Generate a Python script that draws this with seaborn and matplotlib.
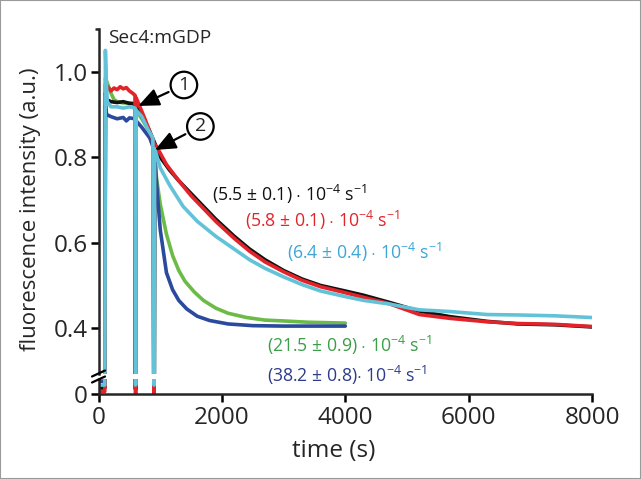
import matplotlib
matplotlib.use('Agg')
from matplotlib import pyplot as plt
from matplotlib.lines import Line2D
from matplotlib.patches import Rectangle
import seaborn as sns

# time (s) / fluorescence (a.u.)
t_black = [0, 100, 110, 130, 200, 300, 400, 500, 590, 600, 605, 700, 800, 895, 900, 905, 1000, 1150, 1300,
           1500, 1700, 1900, 2200, 2450, 2700, 3000, 3300, 3600, 4000, 4300, 4700, 5200, 5700, 6300, 6800,
           7400, 8000]
v_black = [0.013, 0.013, 0.95, 0.935, 0.93, 0.928, 0.93, 0.926, 0.925, 0.01, 0.92, 0.895, 0.87, 0.838, 0.01,
           0.835, 0.80, 0.77, 0.745, 0.715, 0.685, 0.655, 0.615, 0.585, 0.56, 0.535, 0.515, 0.50, 0.487,
           0.477, 0.461, 0.44, 0.427, 0.416, 0.41, 0.408, 0.403]

t_red = [0, 100, 110, 150, 200, 250, 300, 350, 400, 450, 500, 550, 590, 600, 605, 650, 750, 830, 895, 900,
         905, 940, 1100, 1300, 1500, 1700, 1900, 2200, 2450, 2700, 3000, 3300, 3600, 4000, 4300, 4700, 5200,
         5700, 6300, 6800, 7400, 8000]
v_red = [0.005, 0.005, 0.97, 0.965, 0.955, 0.962, 0.958, 0.965, 0.96, 0.963, 0.955, 0.95, 0.945, 0.0, 0.94,
         0.925, 0.89, 0.86, 0.835, 0.0, 0.83, 0.825, 0.783, 0.745, 0.71, 0.68, 0.65, 0.61, 0.58, 0.555, 0.532,
         0.512, 0.497, 0.483, 0.472, 0.458, 0.432, 0.423, 0.415, 0.411, 0.409, 0.404]

t_cyan = [0, 100, 110, 125, 140, 200, 300, 400, 500, 590, 600, 610, 700, 800, 880, 900, 910, 1000, 1150,
          1370, 1600, 1900, 2200, 2450, 2700, 3000, 3300, 3600, 4000, 4300, 4700, 5200, 5700, 6300, 6800,
          7400, 8000]
v_cyan = [0.02, 0.02, 1.05, 0.98, 0.93, 0.918, 0.918, 0.915, 0.918, 0.915, 0.02, 0.91, 0.895, 0.865, 0.845,
          0.02, 0.82, 0.775, 0.735, 0.685, 0.65, 0.615, 0.585, 0.56, 0.54, 0.52, 0.502, 0.487, 0.474, 0.465,
          0.457, 0.443, 0.439, 0.432, 0.431, 0.429, 0.425]

t_green = [0, 100, 110, 150, 200, 250, 300, 400, 500, 590, 600, 610, 700, 800, 880, 900, 910, 940, 1000,
           1100, 1200, 1300, 1400, 1550, 1700, 1900, 2100, 2400, 2700, 3000, 3400, 3700, 4000]
v_green = [0.015, 0.015, 0.985, 0.97, 0.95, 0.935, 0.93, 0.927, 0.927, 0.925, 0.01, 0.91, 0.89, 0.865, 0.84,
           0.01, 0.81, 0.75, 0.69, 0.62, 0.57, 0.535, 0.51, 0.485, 0.465, 0.447, 0.435, 0.425, 0.419, 0.417,
           0.414, 0.413, 0.412]

t_blue = [0, 100, 110, 130, 200, 300, 400, 450, 500, 590, 600, 610, 700, 830, 880, 900, 910, 950, 1000,
          1100, 1200, 1300, 1430, 1600, 1800, 2100, 2500, 3000, 3500, 4000]
v_blue = [0.029, 0.029, 0.92, 0.9, 0.895, 0.89, 0.893, 0.885, 0.892, 0.89, 0.01, 0.885, 0.87, 0.845, 0.825,
          0.01, 0.80, 0.72, 0.63, 0.53, 0.49, 0.465, 0.445, 0.428, 0.418, 0.41, 0.406, 0.405, 0.405, 0.405]

rate_labels = ['(5.5 $\\pm$ 0.1) $\\cdot$ 10$^{-4}$ s$^{-1}$',
               '(5.8 $\\pm$ 0.1) $\\cdot$ 10$^{-4}$ s$^{-1}$',
               '(6.4 $\\pm$ 0.4) $\\cdot$ 10$^{-4}$ s$^{-1}$',
               '(21.5 $\\pm$ 0.9) $\\cdot$ 10$^{-4}$ s$^{-1}$',
               '(38.2 $\\pm$ 0.8)$\\cdot$ 10$^{-4}$ s$^{-1}$']
x_ticks = [0, 2000, 4000, 6000, 8000]
y_ticks = [0.4, 0.6, 0.8, 1.0]

c_black, c_red, c_cyan, c_green, c_blue = '#111111', '#e3232a', '#62c3d8', '#6cbb47', '#2a4a9e'
txt_cols = ['#111111', '#e0262b', '#3ca6d6', '#3a9f48', '#2d3b8c']

sns.set_style('ticks')
plt.rcParams['font.family'] = ['Open Sans', 'DejaVu Sans']
plt.rcParams['mathtext.fontset'] = 'custom'
plt.rcParams['mathtext.rm'] = 'Open Sans'
plt.rcParams['mathtext.it'] = 'Open Sans'
plt.rcParams['axes.linewidth'] = 1.8

W, H = 641, 479
fig = plt.figure(figsize=(W / 100, H / 100), dpi=100)
fig.patch.set_facecolor('white')

def px(x0, y_top, x1, y_bot):
    return [x0 / W, 1 - y_bot / H, (x1 - x0) / W, (y_bot - y_top) / H]

ax = fig.add_axes(px(98.6, 29, 592, 374))
axl = fig.add_axes(px(98.6, 379, 592, 393.6), sharex=ax)

series = [(t_green, v_green, c_green), (t_blue, v_blue, c_blue), (t_black, v_black, c_black),
          (t_red, v_red, c_red), (t_cyan, v_cyan, c_cyan)]
for a in (ax, axl):
    for tt, vv, cc in series:
        sns.lineplot(x=tt, y=vv, ax=a, color=cc, lw=2.6, estimator=None, sort=False)
    a.set_facecolor('none')
    a.set_xlim(0, 8000)
    a.spines['top'].set_visible(False)
    a.spines['right'].set_visible(False)
    a.tick_params(width=1.8, length=6, labelsize=17.5, pad=2, color='black')

ax.set_ylim(0.2929, 1.1)
ax.set_yticks(y_ticks)
ax.set_yticklabels(['0.4', '0.6', '0.8', '1.0'])
ax.set_yticks([1.1], minor=True)
ax.tick_params(axis='y', which='minor', length=3, width=1.8)
ax.spines['bottom'].set_visible(False)
ax.tick_params(axis='x', bottom=False, labelbottom=False)

axl.set_ylim(0, 0.0342)
axl.set_yticks([0])
axl.set_yticklabels(['0'])
axl.set_xticks(x_ticks)
axl.set_xticklabels([str(v) for v in x_ticks])
axl.tick_params(axis='x', pad=3)

# break marks on the y axis
for yb in (373.5, 379.5):
    fig.add_artist(Line2D([92 / W, 105 / W], [1 - (yb + 3) / H, 1 - (yb - 3) / H],
                          color='black', lw=1.6, transform=fig.transFigure))

ax.text(152, 1.079, 'Sec4:mGDP', fontsize=13.8, ha='left', va='center')

ann = dict(fontsize=14, ha='center', va='center',
           bbox=dict(boxstyle='circle,pad=0.22', fc='white', ec='black', lw=1.6),
           arrowprops=dict(arrowstyle='-|>,head_length=0.7,head_width=0.3', color='black', lw=1.6,
                           mutation_scale=18, shrinkB=0))
ax.annotate('1', xy=(643, 0.92), xytext=(1383, 0.969), **ann)
ax.annotate('2', xy=(913, 0.817), xytext=(1650, 0.872), **ann)

label_pos = [(1836, 0.714), (2371, 0.651), (3051, 0.578), (2727, 0.36), (2727, 0.29)]
for (lx, ly), lab, col in zip(label_pos, rate_labels, txt_cols):
    ax.text(lx, ly, lab, color=col, fontsize=12.7, ha='left', va='center')

fig.text(31 / W, 1 - 209 / H, 'fluorescence intensity (a.u.)', rotation=90, fontsize=16,
         ha='center', va='center')
fig.text(333.6 / W, 1 - 451 / H, 'time (s)', fontsize=17.5, ha='center', va='center')

fig.add_artist(Rectangle((0, 0), 1, 1, transform=fig.transFigure, fill=False,
                         edgecolor='#9a9a9a', lw=1.5))

fig.savefig('out.png', dpi=100)
